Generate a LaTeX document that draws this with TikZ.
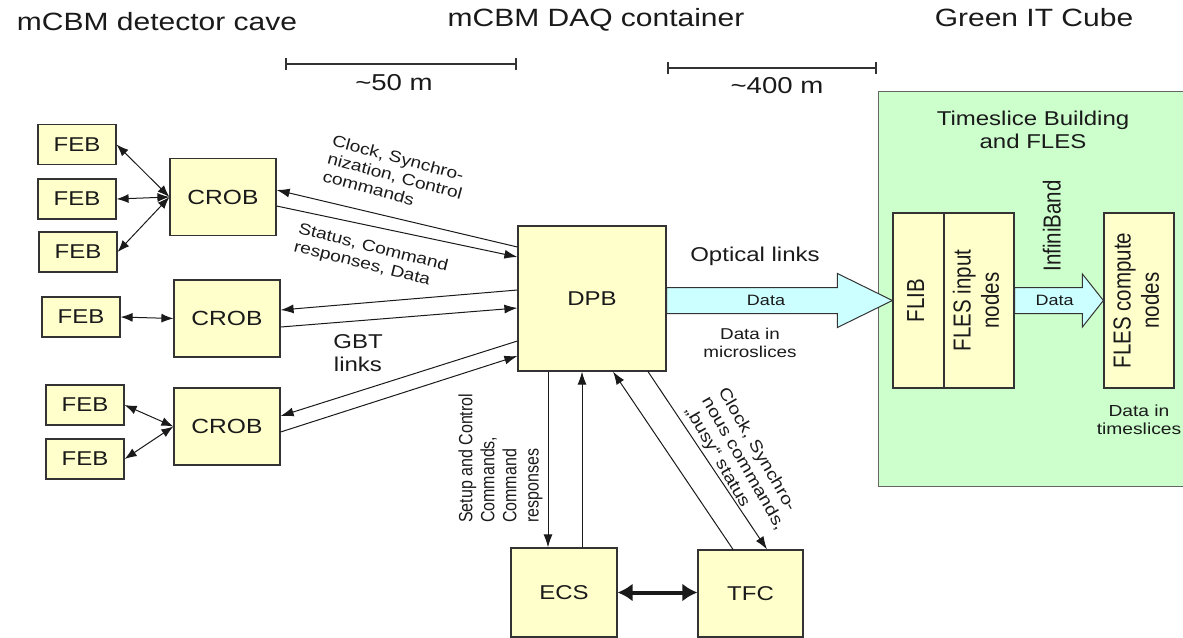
\documentclass[tikz,border=0pt]{standalone}
\usepackage{fontspec}
\usepackage{graphicx}
\setmainfont{Liberation Sans}[FakeStretch=1.2]
\newfontfamily\uprightsans{Liberation Sans}
\usetikzlibrary{arrows.meta,calc}

\definecolor{boxfill}{HTML}{FFFFCC}
\definecolor{greenfill}{HTML}{CCFFCC}
\definecolor{datafill}{HTML}{CCFFFF}
\definecolor{edge}{HTML}{333333}
\definecolor{greenedge}{HTML}{666666}
\definecolor{ink}{HTML}{1A1A1A}

% font size in px-sized points with 1.15 line spacing
\newcommand\setsize[1]{\fontsize{#1pt}{\dimexpr #1pt*115/100\relax}\selectfont}
% text turned to read upwards; the glyph height is widened like the rest of the lettering
\newcommand\uptext[2]{\rotatebox{90}{\scalebox{1}[1.2]{\uprightsans\begin{tabular}{@{}#1@{}}#2\end{tabular}}}}

\begin{document}
\begin{tikzpicture}[x=1pt,y=-1pt,
  box/.style={draw=edge, fill=boxfill, line width=1.2pt, inner sep=0pt, text=ink},
  feb/.style={box, minimum width=78pt, minimum height=40pt, font=\setsize{20}},
  crob/.style={box, minimum width=106pt, minimum height=77pt, font=\setsize{20.5}},
  lbl/.style={inner sep=0pt, text=ink},
  link/.style={line width=1pt, draw=ink, -{Latex[length=13pt,width=9pt]}},
  duplex/.style={line width=1pt, draw=ink, {Latex[length=12pt,width=9pt]}-{Latex[length=12pt,width=9pt]}},
  heavyduplex/.style={line width=4pt, draw=ink, {Latex[length=15pt,width=18pt]}-{Latex[length=15pt,width=18pt]}},
  scalebar/.style={line width=1.6pt, draw=edge, {Bar[width=12pt]}-{Bar[width=12pt]}},
  fatarrow/.style={draw=edge, fill=datafill, line width=1pt, line join=miter}
]
\useasboundingbox (0,0) rectangle (1183,637);
\clip (0,0) rectangle (1183,637);

% ---- headings and distances ----
\node[lbl, font=\setsize{25}] (cave) at (157,22) {mCBM detector cave};
\node[lbl, font=\setsize{25}] (container) at (596,20) {mCBM DAQ container};
\node[lbl, font=\setsize{25}] (cube) at (1034,18) {Green IT Cube};

\coordinate (b1l) at (285,64);
\coordinate (b1r) at (517,64);
\coordinate (b2l) at (667,68);
\coordinate (b2r) at (877,68);
\draw[scalebar] (b1l) -- (b1r);
\draw[scalebar] (b2l) -- (b2r);
\node[lbl, font=\setsize{23}] (d50) at (394,83) {\textasciitilde 50 m};
\node[lbl, font=\setsize{23}] (d400) at (777,86) {\textasciitilde 400 m};

% ---- Green IT Cube area ----
\draw[draw=greenedge, fill=greenfill, line width=1pt] (878,91) rectangle (1195,486);
\node[lbl, font=\setsize{20}, align=center] (tsb) at (1033,130) {Timeslice Building\\and FLES};

\node[box, minimum width=51pt, minimum height=175pt, font=\setsize{20.5}] (flib) at (918.5,300.5) {\uptext{c}{FLIB}};
\node[box, minimum width=70pt, minimum height=175pt, font=\setsize{20.5}] (flesin) at (979,300.5) {\uptext{c}{FLES input\\nodes}};
\node[box, minimum width=70pt, minimum height=175pt, font=\setsize{20.5}] (flescomp) at (1139,300.5) {\uptext{c}{FLES compute\\nodes}};

\draw[fatarrow] let \p1=(flesin.east), \p2=(flescomp.west) in
  (\x1,\y2+13pt) -- (\x2-21pt,\y2+13pt) -- (\x2-21pt,\y2+26.5pt) -- (\p2)
  -- (\x2-21pt,\y2-26.5pt) -- (\x2-21pt,\y2-13pt) -- (\x1,\y2-13pt) -- cycle;
\node[lbl, font=\setsize{15}] (ibdata) at ($(flesin.east)!0.45!(flescomp.west)$) {Data};
\node[lbl, font=\setsize{20.5}] (ib) at (1055,226) {\uptext{c}{InfiniBand}};
\node[lbl, font=\setsize{16}, align=center] (tsdata) at (1139,420) {Data in\\timeslices};

% ---- front-end boards and readout boards ----
\node[feb] (feb1) at (77,144.5) {FEB};
\node[feb] (feb2) at (77,199) {FEB};
\node[feb] (feb3) at (78,252) {FEB};
\node[feb] (feb4) at (81,317) {FEB};
\node[feb] (feb5) at (85,405) {FEB};
\node[feb] (feb6) at (85,459) {FEB};

\node[crob] (crob1) at (223,197) {CROB};
\node[crob] (crob2) at (227,318.5) {CROB};
\node[crob] (crob3) at (227,426.5) {CROB};

\draw[duplex] (feb1.east) -- (crob1.west);
\draw[duplex] (feb2.east) -- (crob1.west);
\draw[duplex] (feb3.east) -- (crob1.west);
\draw[duplex] (feb4.east) -- (crob2.west);
\draw[duplex] (feb5.east) -- (crob3.west);
\draw[duplex] (feb6.east) -- (crob3.west);

% ---- data processing board ----
\node[box, minimum width=148pt, minimum height=145pt, font=\setsize{20}] (dpb) at (592,298.5) {DPB};

\draw[link] ([yshift=51.5pt]dpb.west) -- ([yshift=7pt]crob1.east);
\draw[link] ([yshift=-9pt]crob1.east) -- ([yshift=41.5pt]dpb.west);
\draw[link] ([yshift=8.5pt]dpb.west) -- ([yshift=8.5pt]crob2.east);
\draw[link] ([yshift=-8.5pt]crob2.east) -- ([yshift=-9.5pt]dpb.west);
\draw[link] ([yshift=-42.5pt]dpb.west) -- ([yshift=10.5pt]crob3.east);
\draw[link] ([yshift=-5.5pt]crob3.east) -- ([yshift=-57.5pt]dpb.west);

\node[lbl, font=\setsize{16}, align=left, rotate=-15] (clk1) at (395,176) {Clock, Synchro-\\nization, Control\\commands};
\node[lbl, font=\setsize{16}, align=left, rotate=-14] (stat) at (371,257) {Status, Command\\responses, Data};
\node[lbl, font=\setsize{20}, align=center] (gbt) at (358,353) {GBT\\links};

% optical link to the FLIB
\draw[fatarrow] let \p1=(dpb.east), \p2=(flib.west) in
  (\x1,\y2+13pt) -- (\x2-55pt,\y2+13pt) -- (\x2-55pt,\y2+27pt) -- (\p2)
  -- (\x2-55pt,\y2-27pt) -- (\x2-55pt,\y2-13pt) -- (\x1,\y2-13pt) -- cycle;
\node[lbl, font=\setsize{20}] (optical) at (755,256) {Optical links};
\node[lbl, font=\setsize{15}] (optdata) at (766,300) {Data};
\node[lbl, font=\setsize{15.7}, align=center] (msdata) at (750,343) {Data in\\microslices};

% ---- control and timing ----
\node[box, minimum width=106pt, minimum height=89pt, font=\setsize{20}] (ecs) at (564,592.5) {ECS};
\node[box, minimum width=105pt, minimum height=87pt, font=\setsize{20}] (tfc) at (750.5,593.5) {TFC};

\draw[link] ([xshift=-44pt]dpb.south) -- ([xshift=-16pt]ecs.north);
\draw[link] ([xshift=18pt]ecs.north) -- ([xshift=-10pt]dpb.south);
\draw[link] ([xshift=-17.5pt]tfc.north) -- ([xshift=21pt]dpb.south);
\draw[link] ([xshift=56pt]dpb.south) -- ([xshift=16.5pt]tfc.north);
\draw[heavyduplex] (ecs.east) -- (ecs.east -| tfc.west);

\node[lbl, font=\setsize{16}, anchor=south] (setup) at (501,523) {\uptext{l}{Setup and Control\\Commands,\\Command\\responses}};
\node[lbl, font=\setsize{16.5}, align=left, rotate=-60] (clk2) at (743,464) {Clock, Synchro-\\nous commands,\\\char"201E busy\char"201C{} status};
\end{tikzpicture}
\end{document}
